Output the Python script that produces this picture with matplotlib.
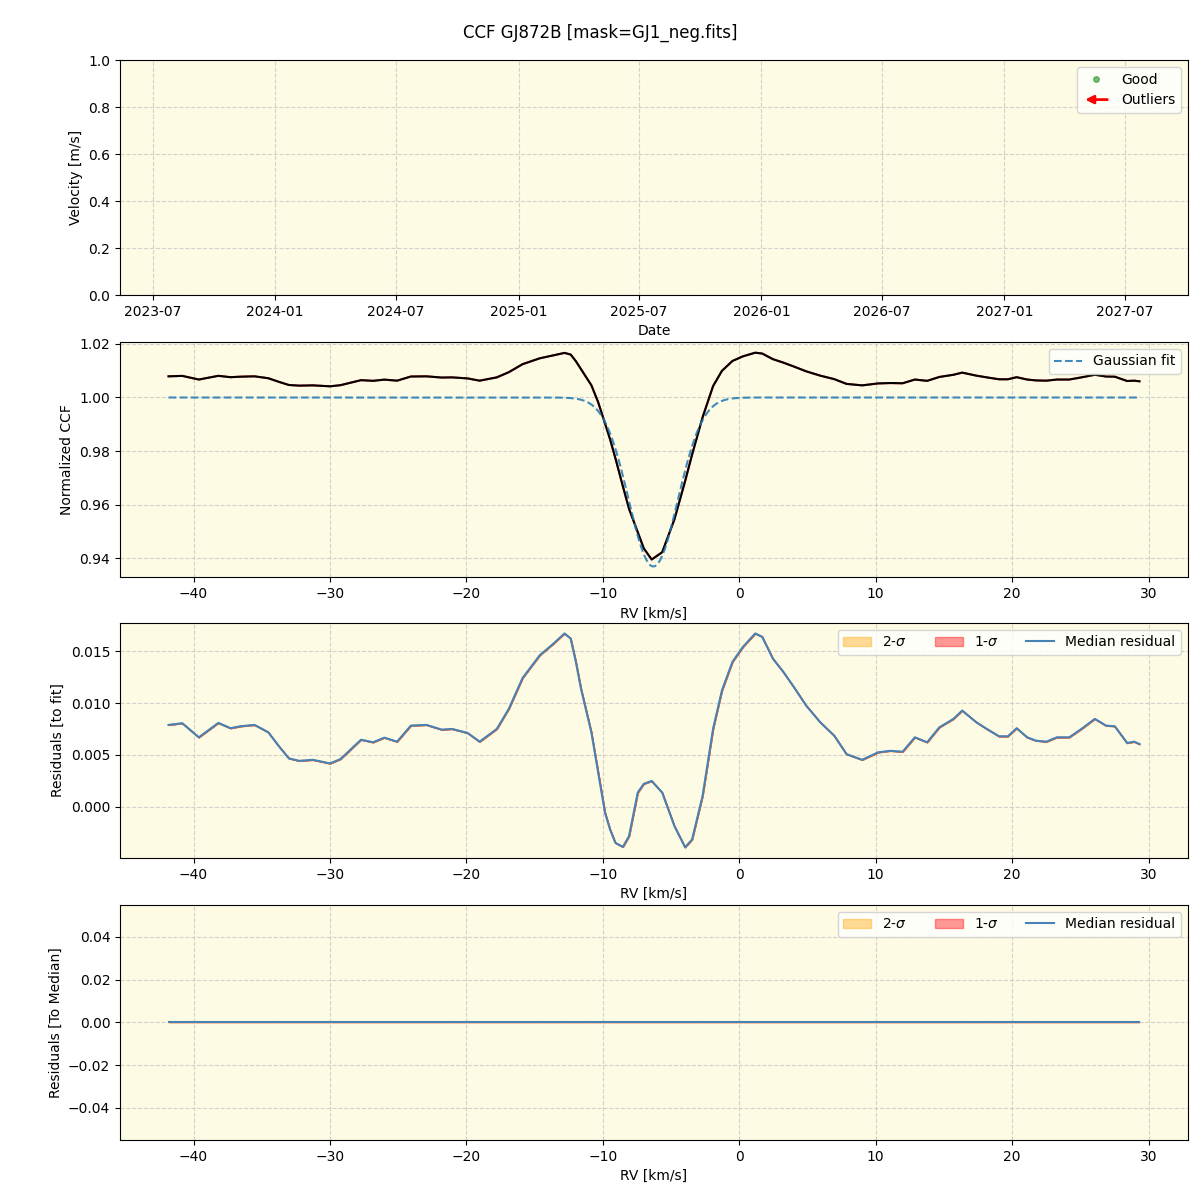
import numpy as np
import matplotlib
matplotlib.use("Agg")
import matplotlib.pyplot as plt
import matplotlib.dates as mdates
from matplotlib.lines import Line2D
from matplotlib.patches import FancyArrowPatch
from matplotlib.legend_handler import HandlerBase
import datetime as dt

# ---------------- data ----------------
title = "CCF GJ872B [mask=GJ1_neg.fits]"

rv = [-41.83, -40.82, -39.61, -38.18, -37.29, -36.54, -35.53, -34.52, -33.77, -33.01,
      -32.25, -31.25, -29.99, -29.23, -27.72, -26.84, -26.01, -25.08, -24.07, -22.93,
      -21.80, -21.05, -19.91, -19.03, -17.77, -16.89, -15.88, -14.62, -13.61, -12.81,
      -12.36, -11.98, -11.60, -10.84, -10.34, -9.84, -9.47, -9.08, -8.53, -8.08,
      -7.44, -7.00, -6.42, -5.65, -4.75, -3.97, -3.46, -2.69, -1.92, -1.27,
      -0.50, 0.27, 1.17, 1.68, 2.46, 3.23, 4.00, 4.90, 5.93, 6.96,
      7.86, 9.01, 10.17, 11.07, 11.97, 12.87, 13.77, 14.67, 15.70, 16.34,
      17.37, 18.14, 19.04, 19.69, 20.33, 21.10, 21.74, 22.51, 23.28, 24.18,
      25.08, 26.06, 26.88, 27.52, 28.43, 28.94, 29.33]

residual = [0.00789, 0.00805, 0.00669, 0.00808, 0.00757, 0.00776, 0.00789, 0.00718, 0.00588, 0.00466,
            0.00442, 0.00452, 0.00417, 0.00459, 0.00646, 0.00621, 0.00666, 0.00627, 0.00782, 0.00789,
            0.00743, 0.00750, 0.00711, 0.00627, 0.00750, 0.00944, 0.01242, 0.01461, 0.01574, 0.01671,
            0.01623, 0.01400, 0.01138, 0.00718, 0.00330, -0.00058, -0.00220, -0.00349, -0.00388, -0.00285,
            0.00136, 0.00220, 0.00248, 0.00136, -0.00188, -0.00392, -0.00317, 0.00103, 0.00750, 0.01121,
            0.01397, 0.01542, 0.01671, 0.01639, 0.01429, 0.01300, 0.01154, 0.00976, 0.00815, 0.00685,
            0.00507, 0.00452, 0.00524, 0.00539, 0.00530, 0.00669, 0.00621, 0.00766, 0.00847, 0.00927,
            0.00815, 0.00750, 0.00679, 0.00679, 0.00757, 0.00669, 0.00637, 0.00627, 0.00669, 0.00669,
            0.00750, 0.00847, 0.00782, 0.00776, 0.00614, 0.00627, 0.00604]

# Gaussian fit parameters
fit_continuum = 1.0
fit_depth = 0.063
fit_center = -6.3
fit_sigma = 1.8

date_start = dt.datetime(2023, 5, 13)
date_end = dt.datetime(2027, 10, 4)

# ---------------- derived ----------------
rv_a = np.array(rv)
res_a = np.array(residual)


def gauss(x):
    return fit_continuum - fit_depth * np.exp(-(x - fit_center) ** 2 / (2 * fit_sigma ** 2))


ccf = gauss(rv_a) + res_a
rv_fine = np.linspace(rv_a[0], rv_a[-1], 400)
fit_fine = gauss(rv_fine)

bg = '#fdfbe3'
grid_kw = dict(color='#c8c8c8', linestyle='--', linewidth=0.8, alpha=0.8)


class ArrowHandler(HandlerBase):
    def create_artists(self, legend, orig_handle, xdescent, ydescent, width, height,
                       fontsize, trans):
        y = height / 2 - ydescent
        a = FancyArrowPatch((width - xdescent, y), (-xdescent, y),
                            arrowstyle='-|>', mutation_scale=12, color='red', lw=2,
                            transform=trans)
        return [a]


class OutlierHandle:
    pass


fig = plt.figure(figsize=(12, 12), dpi=100)
left, width, h = 0.1, 0.89, 0.196
ax1 = fig.add_axes([left, 0.754, width, h])
ax2 = fig.add_axes([left, 0.519, width, h])
ax3 = fig.add_axes([left, 0.285, width, h])
ax4 = fig.add_axes([left, 0.050, width, h])

for ax in (ax1, ax2, ax3, ax4):
    ax.set_facecolor(bg)
    ax.grid(True, **grid_kw)
    ax.set_axisbelow(True)

# Panel 1: time series (empty)
ax1.set_xlim(date_start, date_end)
ax1.set_ylim(0, 1)
ax1.xaxis.set_major_locator(mdates.MonthLocator(bymonth=[1, 7]))
ax1.xaxis.set_major_formatter(mdates.DateFormatter('%Y-%m'))
ax1.set_xlabel('Date')
ax1.set_ylabel('Velocity [m/s]')
good_h = Line2D([], [], color='green', marker='o', linestyle='None', markersize=4, alpha=0.5)
out_h = OutlierHandle()
ax1.legend([good_h, out_h], ['Good', 'Outliers'], loc='upper right',
           handler_map={OutlierHandle: ArrowHandler()})

# Panel 2: CCF
ax2.plot(rv_a, ccf, color='red', lw=1.5, alpha=0.7)
ax2.plot(rv_a, ccf, color='black', lw=1.5)
ax2.plot(rv_fine, fit_fine, color='C0', linestyle='--', lw=1.5, alpha=0.85, label='Gaussian fit')
ax2.set_xlabel('RV [km/s]')
ax2.set_ylabel('Normalized CCF')
ax2.legend(loc='upper right')

# Panel 3: residuals to fit
ax3.fill_between(rv_a, res_a, res_a, color='orange', alpha=0.4, label='2-$\\sigma$')
ax3.fill_between(rv_a, res_a, res_a, color='red', alpha=0.4, label='1-$\\sigma$')
ax3.plot(rv_a, res_a, color='red', lw=1.2, alpha=0.4)
ax3.plot(rv_a, res_a, color='steelblue', lw=1.5, label='Median residual')
ax3.set_xlabel('RV [km/s]')
ax3.set_ylabel('Residuals [to fit]')
ax3.legend(loc='upper right', ncol=3)

# Panel 4: residuals to median
zeros = np.zeros_like(rv_a)
ax4.fill_between(rv_a, zeros, zeros, color='orange', alpha=0.4, label='2-$\\sigma$')
ax4.fill_between(rv_a, zeros, zeros, color='red', alpha=0.4, label='1-$\\sigma$')
ax4.plot(rv_a, zeros, color='steelblue', lw=1.5, label='Median residual')
ax4.set_xlabel('RV [km/s]')
ax4.set_ylabel('Residuals [To Median]')
ax4.legend(loc='upper right', ncol=3)

fig.suptitle(title, fontsize=12)
fig.savefig('out.png', dpi=100)
